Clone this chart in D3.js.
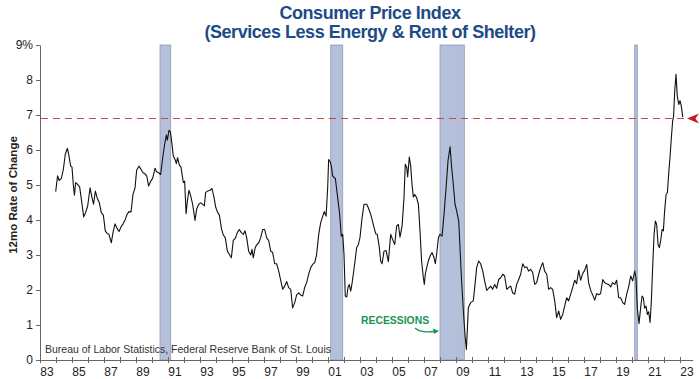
<!DOCTYPE html>
<html><head><meta charset="utf-8">
<script src="https://cdn.jsdelivr.net/npm/d3@7"></script>
<style>
body{margin:0;background:#fff}
svg{display:block}
text{font-family:"Liberation Sans",Arial,Helvetica,sans-serif}
</style>
</head><body>
<svg id="chart" width="700" height="379"></svg>
<script>
// ---- data (decimal year, 12-month % change) ----
const dates = [
 1983.98,1984.1,1984.2,1984.33,1984.46,1984.58,1984.71,1984.79,1984.92,
 1985.0,1985.08,1985.15,1985.23,1985.35,1985.48,1985.6,1985.73,1985.85,1985.98,
 1986.13,1986.25,1986.35,1986.46,1986.58,1986.71,1986.83,1986.96,
 1987.08,1987.21,1987.31,1987.46,1987.56,1987.69,1987.81,1987.94,
 1988.06,1988.19,1988.31,1988.44,1988.56,1988.69,1988.81,1988.94,
 1989.04,1989.19,1989.31,1989.44,1989.56,1989.67,1989.79,1989.92,
 1990.04,1990.19,1990.29,1990.42,1990.54,1990.67,1990.79,1990.9,1990.96,
 1991.06,1991.15,1991.25,1991.33,1991.44,1991.52,1991.6,1991.71,1991.81,1991.96,
 1992.04,1992.13,1992.21,1992.31,1992.42,1992.54,1992.69,1992.79,1992.92,
 1993.04,1993.17,1993.27,1993.35,1993.48,1993.63,1993.75,1993.88,1993.98,
 1994.08,1994.21,1994.35,1994.46,1994.58,1994.71,1994.83,1994.96,
 1995.08,1995.21,1995.33,1995.46,1995.58,1995.71,1995.81,1995.92,
 1996.04,1996.17,1996.25,1996.33,1996.44,1996.54,1996.67,1996.79,1996.92,
 1997.04,1997.17,1997.29,1997.42,1997.54,1997.67,1997.79,1997.92,
 1998.04,1998.17,1998.29,1998.42,1998.54,1998.67,1998.79,1998.92,
 1999.04,1999.17,1999.29,1999.42,1999.54,1999.67,1999.79,1999.92,
 2000.04,2000.17,2000.29,2000.42,2000.54,2000.67,2000.77,2000.88,2000.98,
 2001.04,2001.13,2001.21,2001.29,2001.38,2001.46,2001.54,2001.63,2001.73,2001.83,2001.92,
 2002.0,2002.08,2002.17,2002.25,2002.33,2002.42,2002.5,2002.58,2002.69,2002.79,2002.9,
 2003.0,2003.13,2003.25,2003.42,2003.52,2003.67,2003.75,2003.88,2003.98,
 2004.08,2004.21,2004.29,2004.38,2004.5,2004.63,2004.77,2004.92,
 2005.04,2005.17,2005.29,2005.4,2005.5,2005.63,2005.75,2005.83,2005.92,2005.98,
 2006.08,2006.17,2006.25,2006.33,2006.42,2006.54,2006.65,2006.75,2006.85,2006.96,
 2007.02,2007.08,2007.17,2007.27,2007.38,2007.5,2007.63,2007.71,2007.79,2007.9,
 2008.0,2008.13,2008.25,2008.38,2008.5,2008.63,2008.73,2008.83,2008.94,
 2009.04,2009.17,2009.25,2009.35,2009.46,2009.56,2009.65,2009.77,2009.92,
 2010.08,2010.19,2010.29,2010.42,2010.54,2010.67,2010.79,2010.92,
 2011.04,2011.17,2011.29,2011.42,2011.54,2011.67,2011.79,2011.92,
 2012.04,2012.17,2012.29,2012.42,2012.54,2012.67,2012.79,2012.92,
 2013.04,2013.17,2013.29,2013.42,2013.54,2013.67,2013.79,2013.92,
 2014.04,2014.17,2014.29,2014.42,2014.54,2014.67,2014.79,2014.92,
 2015.04,2015.17,2015.29,2015.42,2015.54,2015.67,2015.79,2015.92,
 2016.04,2016.17,2016.29,2016.42,2016.54,2016.67,2016.79,2016.92,
 2017.04,2017.17,2017.29,2017.42,2017.54,2017.67,2017.79,2017.92,
 2018.04,2018.17,2018.29,2018.42,2018.54,2018.67,2018.79,2018.92,
 2019.04,2019.17,2019.29,2019.42,2019.54,2019.67,2019.79,2019.92,
 2020.04,2020.17,2020.25,2020.33,2020.44,2020.54,2020.63,2020.71,2020.79,2020.88,2020.96,
 2021.04,2021.13,2021.21,2021.29,2021.38,2021.46,2021.54,2021.63,2021.71,2021.79,2021.88,2021.96,
 2022.04,2022.13,2022.21,2022.29,2022.38,2022.46,2022.54,2022.6,2022.67,2022.75,2022.83,2022.92,
 2023.0,2023.08,2023.17
];
const values = [
 4.81,5.26,5.13,5.18,5.45,5.88,6.05,5.88,5.54,
 5.51,5.02,4.71,5.07,5.02,4.94,4.54,4.09,4.21,4.40,
 4.92,4.64,4.45,4.83,4.62,4.49,4.21,4.14,
 3.69,3.61,3.59,3.35,3.64,3.89,3.76,3.67,
 3.8,3.89,3.99,4.16,4.24,4.23,4.73,4.92,
 5.42,5.54,5.45,5.35,5.32,5.26,4.97,5.11,
 5.19,5.48,5.38,5.35,5.30,5.78,6.16,6.43,6.28,
 6.56,6.52,6.16,5.83,5.73,5.61,5.78,5.57,5.51,5.07,
 5.11,4.18,4.54,4.85,4.69,4.45,3.99,4.31,4.45,
 4.49,4.45,4.4,4.78,4.83,4.85,4.9,4.64,4.37,
 4.24,4.14,3.73,3.57,3.49,3.11,3.02,2.92,
 3.42,3.48,3.64,3.73,3.64,3.59,3.69,3.49,
 3.11,3.0,3.16,2.92,3.19,3.29,3.35,3.49,3.73,
 3.73,3.49,3.42,3.11,3.07,2.75,2.75,2.54,
 2.28,2.02,2.11,2.24,2.07,2.02,1.49,1.64,
 1.86,1.92,1.86,1.83,2.07,2.21,2.45,2.64,
 2.73,2.78,3.02,3.59,3.92,4.11,4.24,4.11,4.92,
 5.73,5.67,5.54,5.26,5.21,5.19,4.88,4.54,4.16,3.54,3.59,
 3.02,1.83,1.8,2.07,2.16,1.97,2.18,2.45,2.83,3.21,3.3,
 3.5,4.07,4.45,4.45,4.35,4.16,4.02,3.78,3.61,
 3.59,3.21,2.83,2.75,3.11,3.13,2.81,3.59,
 3.44,3.3,3.83,3.87,3.51,3.83,4.64,5.59,5.5,5.23,
 5.8,5.54,5.02,4.66,4.73,4.64,4.45,3.69,2.83,2.35,
 2.16,2.45,2.64,2.83,2.97,3.07,2.92,2.75,3.02,3.49,
 3.59,3.54,4.16,4.92,5.69,6.09,5.5,5.02,4.45,
 4.26,3.97,3.21,2.26,1.4,0.73,0.3,1.49,1.64,
 1.69,2.16,2.64,2.83,2.75,2.54,2.26,1.99,
 2.05,2.11,2.02,2.16,2.05,2.3,2.35,2.45,
 2.4,2.02,2.07,2.11,1.92,1.88,2.16,2.3,
 2.45,2.75,2.64,2.66,2.54,2.59,2.5,2.16,
 2.21,2.45,2.64,2.78,2.54,2.45,2.02,2.07,
 2.02,1.69,1.21,1.4,1.16,1.3,1.54,1.78,
 1.69,1.88,2.07,2.28,2.18,2.56,2.28,2.47,
 2.56,2.73,2.21,1.99,1.86,1.71,1.9,1.86,
 1.9,2.3,2.21,2.18,2.16,2.09,2.21,2.16,
 2.28,1.78,1.78,1.64,1.59,1.88,2.09,2.4,
 2.26,2.54,2.35,1.49,1.04,1.49,1.83,1.78,1.48,1.54,1.3,
 1.38,1.07,1.69,2.64,3.59,3.97,3.87,3.3,3.21,3.4,3.73,3.69,
 4.26,4.73,4.78,5.3,5.83,6.35,6.83,6.97,7.69,8.16,7.54,7.3,
 7.41,7.26,6.94
];
const recessionStart = [1990.5, 2001.17, 2008.0, 2020.17];
const recessionEnd   = [1991.17, 2001.92, 2009.52, 2020.33];
const referenceLevel = 6.9;
const yTickValues = [0,1,2,3,4,5,6,7,8,9];
const xTickYears = d3.range(1983, 2024);
const xLabelYears = d3.range(1983, 2024, 2);
const titleLines = ["Consumer Price Index", "(Services Less Energy & Rent of Shelter)"];
const yAxisTitle = "12mo Rate of Change";
const sourceNote = "Bureau of Labor Statistics, Federal Reserve Bank of St. Louis";
const recessionLabel = "RECESSIONS";

// ---- scales ----
const svg = d3.select("#chart");
const x = d3.scaleLinear().domain([1983, 2023.8]).range([40, 692.8]);
const y = d3.scaleLinear().domain([0, 9]).range([360, 45]);

// ---- title ----
svg.selectAll("text.title").data(titleLines).join("text")
  .attr("class","title")
  .attr("x", 370).attr("y", (d,i) => 19 + i*18.5)
  .attr("text-anchor","middle")
  .attr("fill","#1c4b87")
  .style("font-size","18px").style("font-weight","bold").style("letter-spacing","-0.45px")
  .text(d => d);

// ---- recession bands ----
svg.append("g").selectAll("rect").data(recessionStart).join("rect")
  .attr("x", (d) => x(d))
  .attr("width", (d,i) => x(recessionEnd[i]) - x(d))
  .attr("y", y(9))
  .attr("height", y(0) - y(9))
  .attr("fill", "#b4c0da")
  .attr("stroke", "#8d99b5").attr("stroke-width", 0.8);

// ---- reference dashed line ----
svg.append("line")
  .attr("x1", x(1983) + 1).attr("x2", 686)
  .attr("y1", y(referenceLevel)).attr("y2", y(referenceLevel))
  .attr("stroke", "#d4414d").attr("stroke-width", 1.2)
  .attr("stroke-dasharray", "7,5");

// arrow marker (pointing left) at the right end
const ay = y(referenceLevel);
svg.append("path")
  .attr("d", `M687,${ay} L699,${ay-5} L695.5,${ay} L699,${ay+5} Z`)
  .attr("fill", "#c8182c");

// ---- axes ----
const yAxis = d3.axisLeft(y).tickValues(yTickValues)
  .tickSize(4).tickSizeOuter(0).tickPadding(3)
  .tickFormat(d => d === 9 ? "9%" : d);
const gy = svg.append("g").attr("transform", `translate(${x(1983)},0)`).call(yAxis);
gy.select(".domain").attr("stroke", "#666");
gy.selectAll(".tick line").attr("stroke", "#666");
gy.selectAll(".tick text").style("font-size","12px").attr("fill","#222").style("font-family", null);

const xAxis = d3.axisBottom(x).tickValues(xTickYears).tickFormat("").tickSize(3).tickSizeOuter(0);
const gx = svg.append("g").attr("transform", `translate(0,${y(0)})`).call(xAxis);
gx.select(".domain").attr("stroke", "#666");
gx.selectAll(".tick line").attr("y1", -3).attr("y2", 3).attr("stroke", "#666");

svg.append("g").selectAll("text").data(xLabelYears).join("text")
  .attr("x", d => x(d) + 7)
  .attr("y", 376)
  .attr("text-anchor","middle")
  .attr("fill","#222")
  .style("font-size","12px")
  .text(d => String(d % 100).padStart(2, "0"));

// y axis title
svg.append("text")
  .attr("transform", "translate(17,195) rotate(-90)")
  .attr("text-anchor","middle")
  .attr("fill","#222")
  .style("font-size","11.5px").style("font-weight","bold")
  .text(yAxisTitle);

// ---- series line ----
const line = d3.line().x(i => x(dates[i])).y(i => y(values[i]));
svg.append("path")
  .attr("d", line(d3.range(dates.length)))
  .attr("fill","none")
  .attr("stroke","#111")
  .attr("stroke-width", 1.1)
  .attr("stroke-linejoin","round");

// ---- source note ----
svg.append("text")
  .attr("x", 45).attr("y", 353)
  .attr("fill","#333")
  .style("font-size","10.5px")
  .text(sourceNote);

// ---- recession annotation ----
svg.append("text")
  .attr("x", 361).attr("y", 324)
  .attr("fill","#1b9455")
  .style("font-size","10.4px").style("font-weight","bold")
  .text(recessionLabel);
svg.append("path")
  .attr("d", "M415,328 Q420,333 434,331.5")
  .attr("fill","none").attr("stroke","#1b9455").attr("stroke-width",1.3);
svg.append("path")
  .attr("d", "M439,331 L433,328.5 L434,334 Z")
  .attr("fill","#1b9455");
</script>
</body></html>
